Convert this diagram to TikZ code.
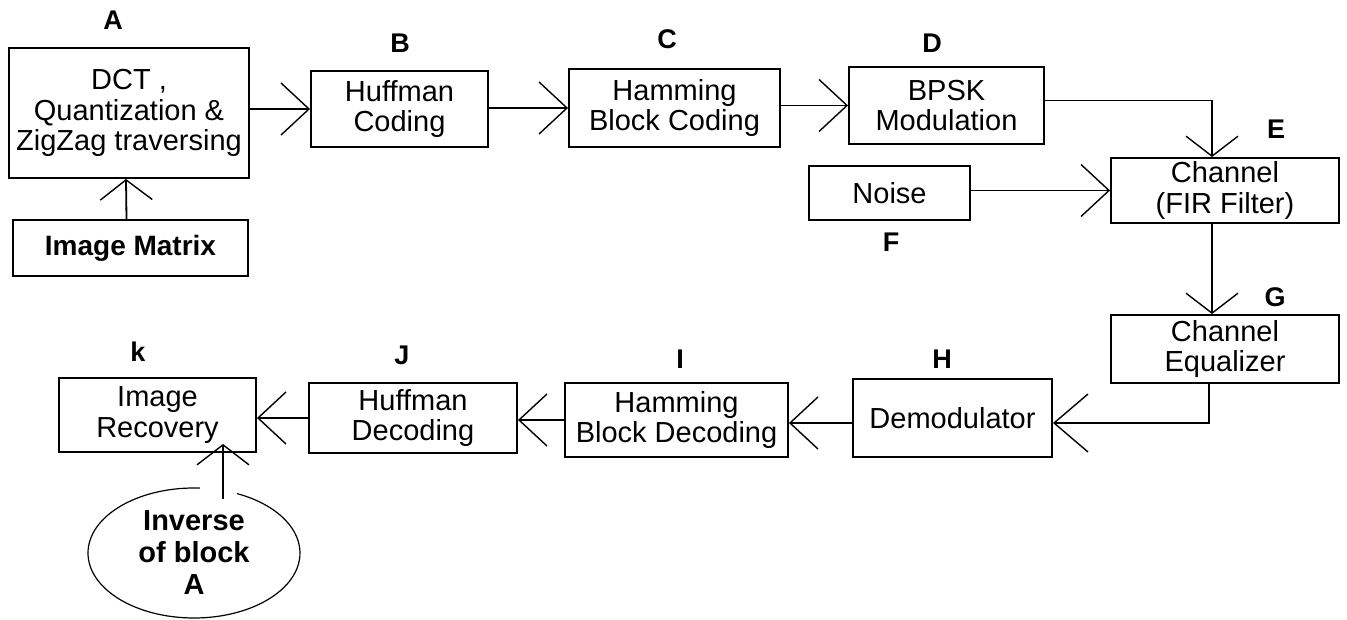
\documentclass[tikz,border=0pt]{standalone}
\usepackage{fontspec}
\setmainfont{Liberation Sans}
\usetikzlibrary{arrows.meta,calc,shapes.geometric}
\begin{document}
\begin{tikzpicture}[x=1pt,y=-1pt,
  box/.style={draw, line width=1.9pt, rectangle, inner sep=0pt, align=center,
              font=\fontsize{29}{30.5}\selectfont},
  lbl/.style={font=\bfseries\fontsize{27}{27}\selectfont},
  arr/.style={line width=1.8pt, -{Straight Barb[length=28pt,width=52pt,line width=1.4pt]}},
  bigarr/.style={line width=1.8pt, -{Straight Barb[length=34pt,width=58pt,line width=1.4pt]}},
  varr/.style={line width=1.8pt, -{Straight Barb[length=20pt,width=52pt,line width=1.4pt]}},
]
\useasboundingbox (0,0) rectangle (1347,620);

% boxes
\node[box, minimum width=240pt, minimum height=130pt] (A) at (129,113) {DCT ,\\Quantization \&\\ZigZag traversing};
\node[box, minimum width=235pt, minimum height=56pt, font=\bfseries\fontsize{28}{30}\selectfont] (IM) at (130.5,248) {Image Matrix};
\node[box, minimum width=177pt, minimum height=76pt] (B) at (399.5,109) {Huffman\\Coding};
\node[box, minimum width=211pt, minimum height=78pt] (C) at (674.5,108) {Hamming\\Block Coding};
\node[box, minimum width=195pt, minimum height=77pt] (D) at (946.5,105.5) {BPSK\\Modulation};
\node[box, minimum width=161pt, minimum height=54pt] (N) at (889.5,193) {Noise};
\node[box, minimum width=228pt, minimum height=65pt] (E) at (1225,190.5) {Channel\\(FIR Filter)};
\node[box, minimum width=228pt, minimum height=68pt] (G) at (1225,349) {Channel\\Equalizer};
\node[box, minimum width=199pt, minimum height=78pt] (H) at (952.5,418) {Demodulator};
\node[box, minimum width=223pt, minimum height=74pt] (I) at (676.5,420) {Hamming\\Block Decoding};
\node[box, minimum width=208pt, minimum height=70pt] (J) at (413,418) {Huffman\\Decoding};
\node[box, minimum width=197pt, minimum height=74pt] (K) at (157.5,415) {Image\\Recovery};
\node[ellipse, minimum width=212pt, minimum height=130pt, inner sep=0pt, align=center,
      font=\bfseries\fontsize{29}{32}\selectfont] (INV) at (194,553) {Inverse\\of block\\A};
\draw[line width=1.2pt] ($(INV.center)+(86.8:106pt and 65pt)$)
  arc[start angle=86.8, end angle=426, x radius=106pt, y radius=65pt];

% labels
\node[lbl] (lA) at (113,20) {A};
\node[lbl] (lB) at (400,43) {B};
\node[lbl] (lC) at (667,39) {C};
\node[lbl] (lD) at (932,43) {D};
\node[lbl] (lE) at (1276,129) {E};
\node[lbl] (lF) at (891,242) {F};
\node[lbl] (lG) at (1275,297) {G};
\node[lbl] (lH) at (942,359) {H};
\node[lbl] (lI) at (680,359) {I};
\node[lbl] (lJ) at (402,355) {J};
\node[lbl] (lK) at (138,352) {k};

% connectors
\draw[varr] ($(IM.north)+(-4,0)$) -- ($(A.south)+(-3,0)$);
\draw[arr] (A.east |- B.west) -- (B.west);
\draw[arr] (B.east |- C.west) -- (C.west);
\draw[arr] (C.east |- D.west) -- (D.west);
\draw[varr] ($(D.east)+(0,-5)$) -| ($(E.north)+(-13,0)$);
\draw[arr] (N.east |- E.west) -- (E.west);
\draw[varr] ($(E.south)+(-13,0)$) -- ($(G.north)+(-13,0)$);
\draw[bigarr] ($(G.south)+(-16,0)$) |- ($(H.east)+(0,5)$);
\draw[arr] ($(H.west)+(0,5)$) -- ($(I.east)+(0,3)$);
\draw[arr] (I.west) -- (I.west -| J.east);
\draw[arr] (J.west) -- (J.west -| K.east);
\draw[varr] ($(INV.north)+(29,11)$) -- ($(K.south)+(65.5,-9)$);
\end{tikzpicture}
\end{document}
